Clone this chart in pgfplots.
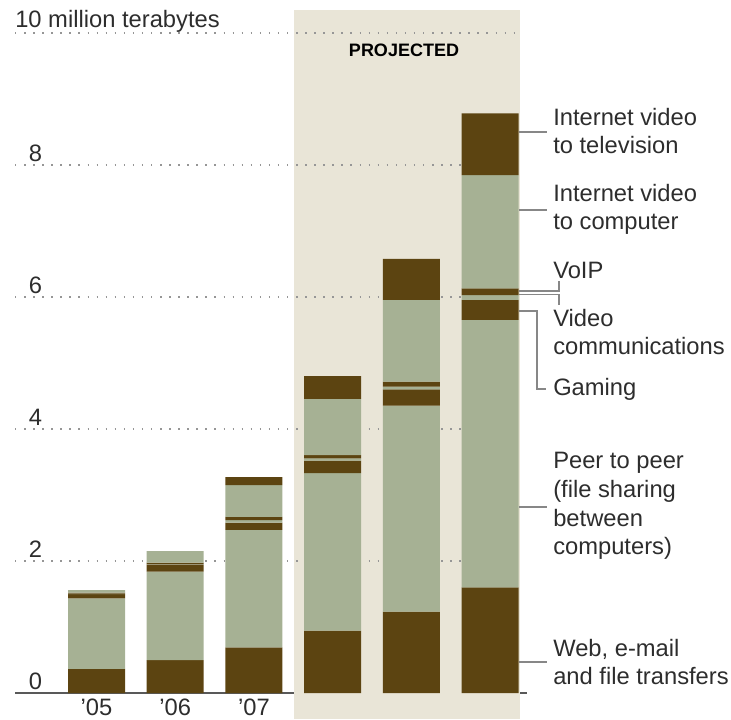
\documentclass[border=0pt]{standalone}
\usepackage{pgfplots}
\pgfplotsset{compat=1.18}
\usepackage{pgfplotstable}
\usepackage{fontspec}
\setmainfont{Liberation Sans}
\definecolor{dark}{RGB}{92,68,17}
\definecolor{sage}{RGB}{166,177,148}
\definecolor{projbg}{RGB}{233,229,215}
\definecolor{txt}{RGB}{45,45,45}
\definecolor{conn}{RGB}{135,135,135}
\definecolor{gridc}{RGB}{150,150,150}

\pgfplotstableread{
x web p2p gaming vc voip ivc tv
0 0.364 1.071 0.065 0.005 0.015 0.040 0
1 0.500 1.338 0.110 0.010 0.016 0.176 0
2 0.692 1.778 0.110 0.040 0.050 0.480 0.120
3 0.944 2.386 0.190 0.036 0.050 0.849 0.348
4 1.232 3.121 0.247 0.041 0.076 1.238 0.621
5 1.601 4.051 0.303 0.075 0.101 1.717 0.934
}\datatable

\begin{document}
\begin{tikzpicture}[font=\fontsize{17.8}{21.5}\selectfont]
\begin{scope}[x=0.75pt,y=-0.75pt,yshift=539.25pt]
\path[use as bounding box] (0,0) rectangle (731,719);
\end{scope}

\begin{axis}[
  at={(11.25pt,19.5pt)}, anchor=south west,
  scale only axis, width=384pt, height=495pt,
  xmin=-1.036, xmax=5.47, ymin=0, ymax=10,
  clip=false,
  ybar stacked, reverse stacked plots=false, bar width=42.75pt,
  axis x line=bottom, axis y line=none,
  ytick=\empty,
  xtick={0,1,2,3,4,5},
  xticklabels={'05,'06,'07,'08,'09,'10},
  major tick length=0pt,
  x axis line style={-, draw=black!65, line width=1.5pt},
  xticklabel style={anchor=north, inner sep=0pt, yshift=-4pt, text=txt, font=\fontsize{17.8}{21.5}\selectfont},
]
\fill[projbg] (axis cs:2.51,-0.394) rectangle (axis cs:5.381,10.35);
\pgfplotsinvokeforeach{2,4,6,8,10}{
  \draw[gridc, line width=1.1pt, dash pattern=on 1.1pt off 5.7pt] (axis cs:-1.036,#1) -- (axis cs:5.394,#1);
}
\addplot[fill=dark, draw=none] table[x=x,y=web]{\datatable};
\addplot[fill=sage, draw=none] table[x=x,y=p2p]{\datatable};
\addplot[fill=dark, draw=none] table[x=x,y=gaming]{\datatable};
\addplot[fill=sage, draw=none] table[x=x,y=vc]{\datatable};
\addplot[fill=dark, draw=none] table[x=x,y=voip]{\datatable};
\addplot[fill=sage, draw=none] table[x=x,y=ivc]{\datatable};
\addplot[fill=dark, draw=none] table[x=x,y=tv]{\datatable};
\end{axis}

\begin{scope}[x=0.75pt,y=-0.75pt,yshift=539.25pt]
% y labels
\node[anchor=base west, inner sep=0pt, text=txt] at (15,28) {10 million terabytes};
\foreach \v/\yy in {8/165,6/297,4/429,2/561,0/693}{
  \node[anchor=base, inner sep=0pt, text=txt] at (35.5,\yy-3.5) {\v};
}
\node[text=black, font=\fontsize{13.5}{16}\selectfont\bfseries] at (404,50) {PROJECTED};
% connectors
\begin{scope}[conn, line width=0.9pt]
\draw (519,132) -- (547,132);
\draw (519,210) -- (547,210);
\draw (519,291) -- (559,291) -- (559,281);
\draw (519,294.5) -- (559,294.5) -- (559,305);
\draw (519,311) -- (537,311) -- (537,389) -- (546,389);
\draw (519,507) -- (547,507);
\draw (519,662) -- (547,662);
\end{scope}
% right labels
\begin{scope}[every node/.style={anchor=west, align=left, inner sep=0pt, text=txt}]
\node at (553,131) {Internet video\\to television};
\node at (553,209.5) {Internet video\\to computer};
\node at (553,270) {VoIP};
\node at (553,332) {Video\\communications};
\node at (553,389) {Gaming};
\node at (553,506) {Peer to peer\\(file sharing\\between\\computers)};
\node at (553,662) {Web, e-mail\\and file transfers};
\end{scope}
\end{scope}
\end{tikzpicture}
\end{document}
